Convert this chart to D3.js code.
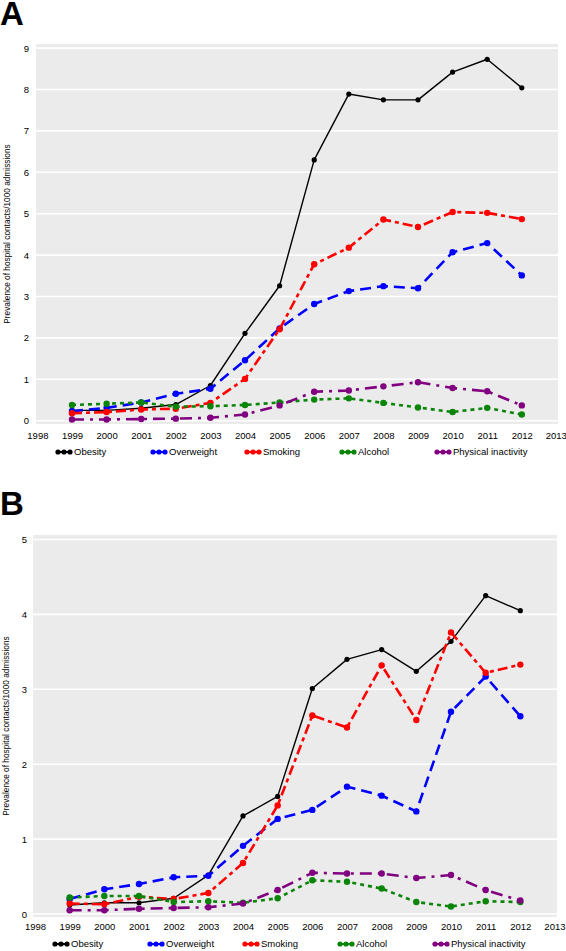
<!DOCTYPE html>
<html>
<head>
<meta charset="utf-8">
<script src="https://cdn.jsdelivr.net/npm/d3@7"></script>
<style>
  html, body { margin: 0; padding: 0; background: #fff; }
  svg { display: block; font-family: "Liberation Sans", Arial, Helvetica, sans-serif; }
</style>
</head>
<body>
<svg id="chart" width="566" height="951"></svg>
<script>
// ---------- DATA ----------
const years = [1999, 2000, 2001, 2002, 2003, 2004, 2005, 2006, 2007, 2008, 2009, 2010, 2011, 2012];
const seriesNames = ["Obesity", "Overweight", "Smoking", "Alcohol", "Physical inactivity"];
const xTicks = [1998, 1999, 2000, 2001, 2002, 2003, 2004, 2005, 2006, 2007, 2008, 2009, 2010, 2011, 2012, 2013];
const yTicksA = [0, 1, 2, 3, 4, 5, 6, 7, 8, 9];
const yTicksB = [0, 1, 2, 3, 4, 5];
const yTitle = "Prevalence of hospital contacts/1000 admissions";

// Panel A
const obesityA    = [0.25, 0.25, 0.30, 0.39, 0.85, 2.11, 3.26, 6.30, 7.89, 7.75, 7.75, 8.42, 8.73, 8.04];
const overweightA = [0.23, 0.31, 0.44, 0.65, 0.77, 1.46, 2.23, 2.82, 3.13, 3.25, 3.20, 4.07, 4.29, 3.51];
const smokingA    = [0.18, 0.21, 0.27, 0.29, 0.43, 1.01, 2.21, 3.78, 4.18, 4.86, 4.68, 5.04, 5.02, 4.87];
const alcoholA    = [0.38, 0.41, 0.44, 0.34, 0.35, 0.38, 0.44, 0.51, 0.54, 0.43, 0.32, 0.21, 0.31, 0.15];
const inactivityA = [0.03, 0.03, 0.04, 0.05, 0.07, 0.15, 0.37, 0.70, 0.73, 0.83, 0.93, 0.79, 0.71, 0.37];

// Panel B
const obesityB    = [0.12, 0.15, 0.15, 0.21, 0.52, 1.31, 1.57, 3.01, 3.40, 3.53, 3.24, 3.64, 4.25, 4.05];
const overweightB = [0.20, 0.33, 0.40, 0.49, 0.51, 0.91, 1.27, 1.39, 1.70, 1.58, 1.37, 2.70, 3.17, 2.64];
const smokingB    = [0.14, 0.13, 0.23, 0.20, 0.28, 0.68, 1.45, 2.65, 2.49, 3.32, 2.59, 3.76, 3.22, 3.33];
const alcoholB    = [0.22, 0.24, 0.24, 0.16, 0.17, 0.15, 0.21, 0.45, 0.43, 0.34, 0.16, 0.10, 0.17, 0.16];
const inactivityB = [0.05, 0.05, 0.07, 0.08, 0.09, 0.14, 0.32, 0.55, 0.54, 0.54, 0.48, 0.52, 0.32, 0.18];

// ---------- STYLES ----------
const styles = {
  "Obesity":             { color: "#000000", width: 1.4, dash: null,          r: 2.6 },
  "Overweight":          { color: "#0000ff", width: 2.6, dash: "11,6",        r: 3.2 },
  "Smoking":             { color: "#ff0000", width: 2.6, dash: "10,4,4,4",    r: 3.2 },
  "Alcohol":             { color: "#0a850a", width: 2.6, dash: "4,4",         r: 3.2 },
  "Physical inactivity": { color: "#800080", width: 2.6, dash: "12,6,3,6",    r: 3.2 }
};

const svg = d3.select("#chart");

function drawPanel(cfg) {
  const g = svg.append("g");
  const x = d3.scaleLinear().domain([1998, 2013]).range(cfg.xRange);
  const y = d3.scaleLinear().domain([0, cfg.yMax]).range(cfg.yRange);

  // panel letter
  g.append("text").attr("x", cfg.letterX).attr("y", cfg.letterY)
    .attr("font-size", 33).attr("font-weight", "bold").attr("fill", "#000")
    .text(cfg.letter);

  // background
  g.append("rect").attr("x", cfg.bg[0]).attr("y", cfg.bg[1])
    .attr("width", cfg.bg[2] - cfg.bg[0]).attr("height", cfg.bg[3] - cfg.bg[1])
    .attr("fill", "#ebebeb");

  // gridlines
  g.append("g").selectAll("line").data(cfg.yTicks).join("line")
    .attr("x1", cfg.bg[0]).attr("x2", cfg.bg[2])
    .attr("y1", d => y(d)).attr("y2", d => y(d))
    .attr("stroke", "#ffffff").attr("stroke-width", 1.6);

  // y axis
  const yAxis = d3.axisLeft(y).tickValues(cfg.yTicks).tickSize(0).tickPadding(0).tickFormat(d3.format("d"));
  const ya = g.append("g").attr("transform", `translate(${cfg.yLabelX},0)`).call(yAxis);
  ya.select(".domain").remove();
  ya.selectAll("text").attr("font-size", 9.5).attr("fill", "#000").attr("font-family", "Liberation Sans, Arial, sans-serif");

  // x axis
  const xAxis = d3.axisBottom(x).tickValues(xTicks).tickSize(0).tickPadding(0).tickFormat(d3.format("d"));
  const xa = g.append("g").attr("transform", `translate(0,${cfg.xLabelY})`).call(xAxis);
  xa.select(".domain").remove();
  xa.selectAll("text").attr("font-size", 9.5).attr("fill", "#000").attr("font-family", "Liberation Sans, Arial, sans-serif");
  // keep the last label inside the frame
  xa.selectAll(".tick").filter(d => d === 2013).select("text").attr("text-anchor", "end").attr("dx", "10");

  // y title
  g.append("text")
    .attr("transform", `translate(${cfg.titleX},${(cfg.bg[1] + cfg.bg[3]) / 2}) rotate(-90)`)
    .attr("text-anchor", "middle").attr("font-size", 8.3).attr("fill", "#000")
    .text(yTitle);

  // series
  const line = d3.line().x((d, i) => x(years[i])).y(d => y(d));
  cfg.series.forEach((vals, si) => {
    const name = seriesNames[si];
    const st = styles[name];
    const sg = g.append("g");
    sg.append("path").datum(vals).attr("d", line)
      .attr("fill", "none").attr("stroke", st.color).attr("stroke-width", st.width)
      .attr("stroke-dasharray", st.dash).attr("stroke-linejoin", "round");
    sg.selectAll("circle").data(vals).join("circle")
      .attr("cx", (d, i) => x(years[i])).attr("cy", d => y(d))
      .attr("r", st.r).attr("fill", st.color);
  });

  // legend
  const lg = g.append("g").attr("transform", `translate(0,${cfg.legendY})`);
  seriesNames.forEach((name, i) => {
    const st = styles[name];
    const lx = cfg.legendX[i];
    const item = lg.append("g").attr("transform", `translate(${lx},0)`);
    item.append("line").attr("x1", 0).attr("x2", 12).attr("y1", 0).attr("y2", 0)
      .attr("stroke", st.color).attr("stroke-width", 2);
    [0, 6, 12].forEach(cx => item.append("circle").attr("cx", cx).attr("cy", 0).attr("r", 2.6).attr("fill", st.color));
    item.append("text").attr("x", 16).attr("y", 0).attr("dy", "0.35em")
      .attr("font-size", 9.5).attr("fill", "#000").text(name);
  });
}

drawPanel({
  letter: "A", letterX: 0, letterY: 25,
  xRange: [37.4, 556.4], yMax: 9, yRange: [420.7, 48.1],
  bg: [36, 44, 558, 424], yTicks: yTicksA,
  yLabelX: 29, xLabelY: 432, titleX: 10,
  legendY: 452, legendX: [58, 153, 247, 342, 437],
  series: [obesityA, overweightA, smokingA, alcoholA, inactivityA]
});

drawPanel({
  letter: "B", letterX: 0, letterY: 515,
  xRange: [35, 555], yMax: 5, yRange: [914, 539.5],
  bg: [33, 535, 557, 917], yTicks: yTicksB,
  yLabelX: 27, xLabelY: 923, titleX: 9,
  legendY: 944, legendX: [55, 150, 245, 340, 435],
  series: [obesityB, overweightB, smokingB, alcoholB, inactivityB]
});
</script>
</body>
</html>
